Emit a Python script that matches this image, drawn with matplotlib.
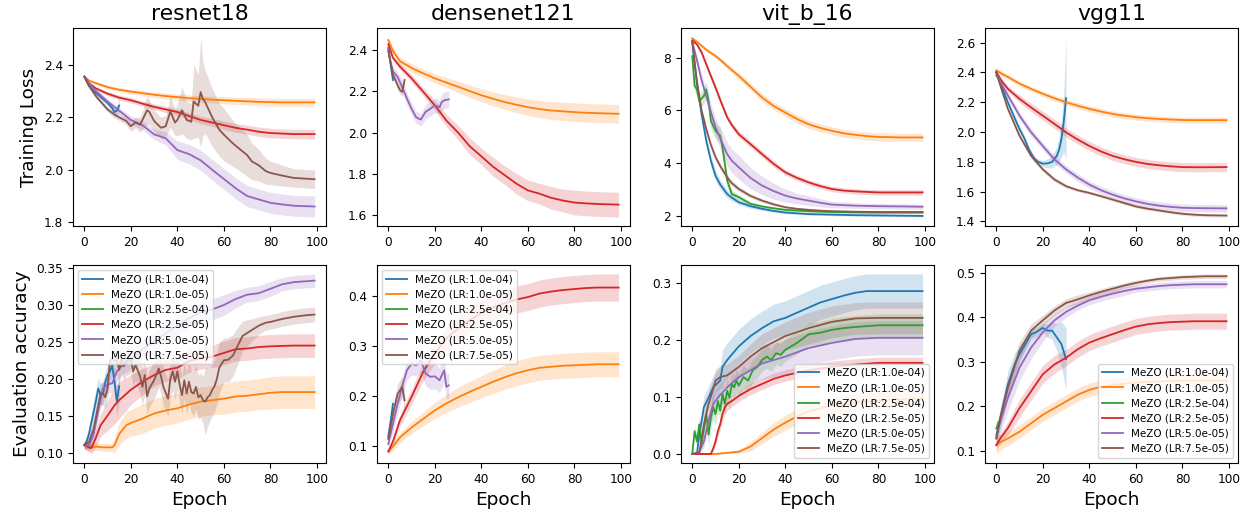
import matplotlib.pyplot as plt
from matplotlib.ticker import MultipleLocator

LABELS = ["MeZO (LR:1.0e-04)", "MeZO (LR:1.0e-05)", "MeZO (LR:2.5e-04)",
          "MeZO (LR:2.5e-05)", "MeZO (LR:5.0e-05)", "MeZO (LR:7.5e-05)"]
MODELS = ["resnet18", "densenet121", "vit_b_16", "vgg11"]
COLORS = ["tab:blue", "tab:orange", "tab:green", "tab:red", "tab:purple", "tab:brown"]

# common epoch grid for the smooth runs
SMOOTH_X = [0, 2, 5, 10, 15, 20, 25, 30, 35, 40, 45, 50, 55, 60, 65, 70, 75, 80, 85, 90, 99]

# ---------------- resnet18, training loss ----------------
res_loss_1e4_x = [0, 2, 4, 6, 8, 10, 12, 13, 14, 15]
res_loss_1e4 = [2.355, 2.32, 2.30, 2.285, 2.27, 2.255, 2.235, 2.22, 2.225, 2.245]
res_loss_1e4_sd = [0.005, 0.008, 0.008, 0.01, 0.01, 0.01, 0.012, 0.015, 0.02, 0.03]
res_loss_1e5 = [2.355, 2.34, 2.33, 2.315, 2.305, 2.298, 2.292, 2.286, 2.281, 2.277, 2.273,
                2.27, 2.267, 2.265, 2.263, 2.261, 2.259, 2.258, 2.257, 2.257, 2.257]
res_loss_1e5_sd = [0.005, 0.005, 0.006, 0.007, 0.008, 0.009, 0.01, 0.01, 0.011, 0.012, 0.012,
                   0.013, 0.013, 0.014, 0.014, 0.015, 0.015, 0.015, 0.015, 0.015, 0.015]
res_loss_25e4_x = [0]
res_loss_25e4 = [2.355]
res_loss_25e4_sd = [0.0]
res_loss_25e5 = [2.355, 2.33, 2.31, 2.29, 2.275, 2.265, 2.252, 2.24, 2.23, 2.22, 2.205,
                 2.19, 2.18, 2.17, 2.16, 2.153, 2.145, 2.14, 2.138, 2.136, 2.136]
res_loss_25e5_sd = [0.005, 0.006, 0.007, 0.008, 0.009, 0.01, 0.01, 0.011, 0.012, 0.012, 0.013,
                    0.014, 0.015, 0.016, 0.017, 0.017, 0.018, 0.018, 0.018, 0.018, 0.018]
res_loss_5e5 = [2.355, 2.33, 2.30, 2.26, 2.225, 2.19, 2.17, 2.135, 2.12, 2.075, 2.06,
                2.036, 2.0, 1.965, 1.93, 1.90, 1.887, 1.874, 1.868, 1.863, 1.86]
res_loss_5e5_sd = [0.005, 0.006, 0.008, 0.01, 0.012, 0.015, 0.018, 0.02, 0.025, 0.035, 0.037,
                   0.038, 0.04, 0.04, 0.04, 0.04, 0.04, 0.04, 0.04, 0.04, 0.04]
res_loss_75e5_x = [0, 2, 5, 8, 10, 13, 15, 18, 20, 22, 24, 25, 27, 28, 30, 33, 35, 37, 39, 40,
                   42, 44, 46, 47, 49, 50, 51, 52, 55, 58, 60, 63, 65, 70, 72, 75, 78, 80, 85, 90, 99]
res_loss_75e5 = [2.355, 2.32, 2.28, 2.25, 2.23, 2.21, 2.20, 2.186, 2.166, 2.18, 2.172, 2.19,
                 2.227, 2.22, 2.186, 2.16, 2.166, 2.222, 2.18, 2.19, 2.227, 2.19, 2.183, 2.26,
                 2.244, 2.296, 2.27, 2.257, 2.20, 2.153, 2.134, 2.108, 2.092, 2.056, 2.032,
                 2.017, 1.995, 1.988, 1.978, 1.969, 1.964]
res_loss_75e5_sd = [0.005, 0.006, 0.008, 0.01, 0.01, 0.012, 0.012, 0.015, 0.02, 0.02, 0.03,
                    0.035, 0.055, 0.045, 0.04, 0.04, 0.04, 0.06, 0.05, 0.06, 0.09, 0.07, 0.07,
                    0.14, 0.12, 0.21, 0.14, 0.12, 0.11, 0.1, 0.1, 0.09, 0.085, 0.08, 0.07, 0.06,
                    0.05, 0.045, 0.04, 0.035, 0.035]

# ---------------- resnet18, evaluation accuracy ----------------
res_acc_1e4_x = [0, 1, 2, 3, 4, 5, 6, 7, 8, 9, 10, 11, 12, 13, 14, 15]
res_acc_1e4 = [0.11, 0.115, 0.125, 0.14, 0.155, 0.17, 0.187, 0.178, 0.18, 0.195, 0.205,
               0.21, 0.218, 0.195, 0.17, 0.19]
res_acc_1e4_sd = [0.005, 0.008, 0.01, 0.012, 0.015, 0.015, 0.015, 0.015, 0.015, 0.015, 0.015,
                  0.015, 0.015, 0.018, 0.02, 0.02]
res_acc_1e5_x = [0, 2, 5, 8, 12, 13, 15, 18, 20, 25, 30, 35, 40, 45, 50, 55, 60, 65, 70, 75,
                 80, 85, 90, 99]
res_acc_1e5 = [0.11, 0.107, 0.108, 0.107, 0.107, 0.11, 0.125, 0.137, 0.14, 0.146, 0.153,
               0.157, 0.16, 0.165, 0.169, 0.171, 0.173, 0.176, 0.177, 0.179, 0.181, 0.182,
               0.182, 0.182]
res_acc_1e5_sd = [0.005, 0.005, 0.005, 0.005, 0.006, 0.01, 0.015, 0.018, 0.018, 0.02, 0.02,
                  0.02, 0.02, 0.02, 0.02, 0.02, 0.021, 0.021, 0.021, 0.021, 0.022, 0.022,
                  0.022, 0.022]
res_acc_25e4_x = [0]
res_acc_25e4 = [0.11]
res_acc_25e4_sd = [0.0]
res_acc_25e5_x = [0, 2, 3, 5, 7, 10, 13, 15, 20, 25, 30, 35, 40, 45, 50, 55, 60, 65, 70, 75,
                  80, 90, 99]
res_acc_25e5 = [0.11, 0.107, 0.106, 0.12, 0.137, 0.15, 0.164, 0.171, 0.185, 0.196, 0.205,
                0.212, 0.215, 0.224, 0.228, 0.23, 0.235, 0.24, 0.241, 0.243, 0.244, 0.245, 0.245]
res_acc_25e5_sd = [0.005, 0.006, 0.008, 0.012, 0.015, 0.02, 0.025, 0.025, 0.02, 0.018, 0.015,
                   0.015, 0.015, 0.015, 0.015, 0.015, 0.016, 0.016, 0.016, 0.016, 0.016,
                   0.016, 0.016]
res_acc_5e5_x = [0, 2, 4, 6, 8, 10, 12, 14, 16, 20, 25, 30, 35, 40, 45, 50, 55, 60, 65, 70,
                 75, 80, 85, 90, 99]
res_acc_5e5 = [0.11, 0.109, 0.125, 0.157, 0.187, 0.192, 0.194, 0.21, 0.217, 0.225, 0.24,
               0.25, 0.262, 0.272, 0.282, 0.29, 0.294, 0.3, 0.308, 0.314, 0.316, 0.322,
               0.328, 0.331, 0.333]
res_acc_5e5_sd = [0.005, 0.006, 0.01, 0.012, 0.012, 0.012, 0.012, 0.012, 0.012, 0.012, 0.012,
                  0.012, 0.013, 0.013, 0.013, 0.013, 0.014, 0.014, 0.012, 0.01, 0.01, 0.01,
                  0.009, 0.009, 0.009]
res_acc_75e5_x = [0, 2, 4, 6, 7, 8, 9, 10, 11, 12, 13, 14, 15, 16, 17, 18, 20, 21, 22, 24,
                  25, 26, 27, 28, 30, 32, 33, 34, 36, 37, 38, 39, 40, 41, 42, 43, 44, 45, 46,
                  47, 48, 49, 50, 51, 52, 53, 54, 55, 56, 57, 58, 60, 62, 64, 66, 68, 70, 72,
                  75, 78, 80, 85, 90, 95, 99]
res_acc_75e5 = [0.11, 0.114, 0.132, 0.164, 0.18, 0.18, 0.175, 0.187, 0.224, 0.228,
                0.224, 0.226, 0.212, 0.228, 0.217, 0.224, 0.228, 0.21, 0.219, 0.203,
                0.189, 0.205, 0.176, 0.187, 0.198, 0.214, 0.203, 0.189, 0.173, 0.2,
                0.21, 0.196, 0.21, 0.192, 0.178, 0.198, 0.18, 0.196, 0.182, 0.18,
                0.189, 0.175, 0.178, 0.171, 0.169, 0.175, 0.178, 0.185, 0.19, 0.2,
                0.215, 0.225, 0.226, 0.232, 0.245, 0.258, 0.262, 0.266, 0.272, 0.276,
                0.277, 0.281, 0.284, 0.286, 0.287]
res_acc_75e5_sd = [0.005, 0.008, 0.01, 0.012, 0.015, 0.015, 0.015,
                   0.015, 0.02, 0.02, 0.02, 0.02, 0.02, 0.02, 0.02, 0.02,
                   0.02, 0.02, 0.02, 0.025, 0.025, 0.025, 0.025, 0.025,
                   0.025, 0.025, 0.025, 0.025, 0.025, 0.025, 0.025, 0.025,
                   0.025, 0.025, 0.025, 0.025, 0.028, 0.028, 0.028, 0.03, 0.03, 0.03,
                   0.03, 0.032, 0.045, 0.04, 0.035, 0.035, 0.035, 0.035, 0.035,
                   0.03, 0.03, 0.028, 0.025, 0.02, 0.018, 0.015, 0.012, 0.01,
                   0.01, 0.01, 0.01, 0.01, 0.01]

# ---------------- densenet121, training loss ----------------
den_loss_1e4_x = [0, 1, 2]
den_loss_1e4 = [2.41, 2.33, 2.255]
den_loss_1e4_sd = [0.01, 0.02, 0.02]
den_loss_1e5 = [2.448, 2.395, 2.346, 2.313, 2.287, 2.263, 2.242, 2.222, 2.201, 2.181, 2.164,
                2.148, 2.135, 2.123, 2.114, 2.107, 2.103, 2.099, 2.096, 2.094, 2.091]
den_loss_1e5_sd = [0.015, 0.015, 0.018, 0.02, 0.02, 0.022, 0.025, 0.028, 0.03, 0.032, 0.034,
                   0.036, 0.038, 0.04, 0.042, 0.043, 0.044, 0.045, 0.045, 0.045, 0.045]
den_loss_25e4_x = [0]
den_loss_25e4 = [2.42]
den_loss_25e4_sd = [0.0]
den_loss_25e5 = [2.428, 2.362, 2.32, 2.263, 2.198, 2.132, 2.058, 2.0, 1.934, 1.885, 1.835,
                 1.794, 1.753, 1.72, 1.704, 1.684, 1.671, 1.661, 1.657, 1.654, 1.651]
den_loss_25e5_sd = [0.01, 0.012, 0.015, 0.018, 0.02, 0.025, 0.03, 0.035, 0.04, 0.04, 0.045,
                    0.045, 0.05, 0.05, 0.05, 0.055, 0.055, 0.06, 0.06, 0.06, 0.06]
den_loss_5e5_x = [0, 1, 2, 4, 6, 8, 10, 12, 14, 16, 18, 20, 22, 23, 24, 26]
den_loss_5e5 = [2.41, 2.34, 2.296, 2.27, 2.22, 2.165, 2.115, 2.074, 2.063, 2.1, 2.115, 2.132,
                2.123, 2.148, 2.156, 2.161]
den_loss_5e5_sd = [0.02, 0.022, 0.025, 0.025, 0.03, 0.03, 0.03, 0.03, 0.03, 0.035, 0.035,
                   0.035, 0.035, 0.04, 0.04, 0.04]
den_loss_75e5_x = [0, 2, 4, 5, 6, 7]
den_loss_75e5 = [2.395, 2.28, 2.23, 2.206, 2.197, 2.255]
den_loss_75e5_sd = [0.01, 0.015, 0.02, 0.02, 0.02, 0.02]

# ---------------- densenet121, evaluation accuracy ----------------
den_acc_1e4_x = [0, 1, 2]
den_acc_1e4 = [0.12, 0.15, 0.185]
den_acc_1e4_sd = [0.01, 0.015, 0.02]
den_acc_1e5 = [0.09, 0.1, 0.118, 0.138, 0.155, 0.172, 0.186, 0.198, 0.209, 0.219, 0.229,
               0.238, 0.246, 0.252, 0.257, 0.259, 0.261, 0.262, 0.263, 0.264, 0.264]
den_acc_1e5_sd = [0.005, 0.008, 0.01, 0.012, 0.014, 0.016, 0.018, 0.02, 0.021, 0.022, 0.023,
                  0.024, 0.025, 0.025, 0.025, 0.025, 0.025, 0.025, 0.025, 0.025, 0.025]
den_acc_25e4_x = [0]
den_acc_25e4 = [0.1]
den_acc_25e4_sd = [0.0]
den_acc_25e5 = [0.09, 0.11, 0.152, 0.199, 0.249, 0.286, 0.316, 0.335, 0.352, 0.366, 0.377,
                0.386, 0.393, 0.398, 0.405, 0.409, 0.412, 0.414, 0.416, 0.417, 0.417]
den_acc_25e5_sd = [0.005, 0.008, 0.012, 0.015, 0.018, 0.02, 0.022, 0.024, 0.025, 0.025, 0.026,
                   0.026, 0.027, 0.027, 0.027, 0.027, 0.027, 0.027, 0.027, 0.027, 0.027]
den_acc_5e5_x = [0, 2, 4, 6, 8, 10, 12, 14, 16, 18, 20, 22, 24, 25, 26]
den_acc_5e5 = [0.105, 0.145, 0.185, 0.22, 0.252, 0.265, 0.262, 0.272, 0.246, 0.239, 0.24,
               0.232, 0.252, 0.219, 0.222]
den_acc_5e5_sd = [0.01, 0.015, 0.02, 0.02, 0.02, 0.022, 0.022, 0.025, 0.025, 0.025, 0.025,
                  0.025, 0.025, 0.025, 0.025]
den_acc_75e5_x = [0, 2, 4, 6, 7]
den_acc_75e5 = [0.115, 0.165, 0.205, 0.219, 0.192]
den_acc_75e5_sd = [0.01, 0.015, 0.02, 0.02, 0.02]

# ---------------- vit_b_16, training loss ----------------
VIT_X = [0, 2, 4, 6, 8, 10, 12, 15, 17, 20, 25, 30, 35, 40, 45, 50, 55, 60, 65, 70, 75, 80,
         90, 99]
vit_loss_1e4 = [8.6, 7.0, 5.86, 4.86, 4.1, 3.53, 3.2, 2.84, 2.7, 2.53, 2.38, 2.28, 2.2, 2.14,
                2.11, 2.08, 2.07, 2.06, 2.05, 2.04, 2.035, 2.03, 2.02, 2.01]
vit_loss_1e4_sd = [0.05, 0.15, 0.2, 0.2, 0.2, 0.2, 0.18, 0.15, 0.12, 0.1, 0.08, 0.06, 0.05,
                   0.05, 0.04, 0.04, 0.04, 0.04, 0.04, 0.04, 0.04, 0.04, 0.04, 0.04]
vit_loss_1e5 = [8.73, 8.6, 8.45, 8.3, 8.18, 8.06, 7.92, 7.68, 7.53, 7.31, 6.9, 6.49, 6.17,
                5.92, 5.68, 5.48, 5.34, 5.23, 5.14, 5.08, 5.03, 5.0, 4.98, 4.98]
vit_loss_1e5_sd = [0.05, 0.05, 0.06, 0.07, 0.08, 0.08, 0.09, 0.1, 0.1, 0.12, 0.13, 0.14, 0.14,
                   0.15, 0.15, 0.15, 0.15, 0.15, 0.15, 0.15, 0.15, 0.15, 0.15, 0.15]
vit_loss_25e4_x = [0, 1, 2, 3, 4, 5, 6, 7, 8, 10, 12, 13, 14, 15, 17, 20, 25, 30, 35, 40, 50,
                   60, 70, 80, 99]
vit_loss_25e4 = [8.06, 6.93, 6.8, 6.36, 6.45, 6.55, 6.8, 6.36, 5.6, 5.23, 5.04, 4.6, 3.97,
                 3.35, 2.84, 2.72, 2.47, 2.37, 2.3, 2.24, 2.19, 2.16, 2.15, 2.14, 2.14]
vit_loss_25e4_sd = [0.1, 0.2, 0.25, 0.25, 0.3, 0.3, 0.3, 0.3, 0.3, 0.3, 0.3, 0.3, 0.3, 0.25,
                    0.15, 0.1, 0.08, 0.06, 0.05, 0.05, 0.05, 0.05, 0.05, 0.05, 0.05]
vit_loss_25e5 = [8.65, 8.5, 8.2, 7.75, 7.3, 6.87, 6.4, 5.74, 5.45, 5.1, 4.73, 4.35, 3.98,
                 3.66, 3.45, 3.28, 3.14, 3.03, 2.97, 2.94, 2.92, 2.9, 2.9, 2.9]
vit_loss_25e5_sd = [0.05, 0.05, 0.08, 0.1, 0.12, 0.12, 0.12, 0.12, 0.12, 0.12, 0.12, 0.12,
                    0.12, 0.1, 0.1, 0.1, 0.1, 0.1, 0.1, 0.1, 0.1, 0.1, 0.1, 0.1]
vit_loss_5e5 = [8.6, 7.9, 7.15, 6.55, 5.95, 5.36, 4.95, 4.35, 4.1, 3.85, 3.45, 3.16, 2.95,
                2.78, 2.67, 2.59, 2.51, 2.44, 2.42, 2.4, 2.39, 2.38, 2.37, 2.36]
vit_loss_5e5_sd = [0.1, 0.15, 0.2, 0.25, 0.3, 0.35, 0.4, 0.45, 0.45, 0.45, 0.4, 0.35, 0.3,
                   0.25, 0.2, 0.18, 0.15, 0.12, 0.12, 0.1, 0.1, 0.1, 0.1, 0.1]
vit_loss_75e5 = [8.6, 7.1, 6.0, 5.3, 4.7, 4.23, 3.9, 3.47, 3.25, 3.03, 2.77, 2.59, 2.45, 2.34,
                 2.28, 2.24, 2.21, 2.19, 2.18, 2.17, 2.165, 2.16, 2.16, 2.16]
vit_loss_75e5_sd = [0.05, 0.1, 0.12, 0.12, 0.12, 0.12, 0.12, 0.1, 0.1, 0.1, 0.08, 0.07, 0.06,
                    0.05, 0.05, 0.05, 0.05, 0.05, 0.05, 0.05, 0.05, 0.05, 0.05, 0.05]

# ---------------- vit_b_16, evaluation accuracy ----------------
vit_acc_1e4_x = [0, 2, 3, 4, 5, 7, 9, 12, 13, 15, 20, 25, 30, 35, 40, 45, 50, 55, 60, 65, 70,
                 75, 80, 90, 99]
vit_acc_1e4 = [0.0, 0.0, 0.034, 0.058, 0.082, 0.099, 0.117, 0.129, 0.153, 0.165, 0.189,
               0.207, 0.221, 0.233, 0.239, 0.248, 0.257, 0.266, 0.272, 0.278, 0.283, 0.286,
               0.286, 0.286, 0.286]
vit_acc_1e4_sd = [0.0, 0.0, 0.01, 0.015, 0.02, 0.02, 0.02, 0.025, 0.03, 0.03, 0.03, 0.03, 0.03,
                  0.03, 0.03, 0.03, 0.03, 0.03, 0.03, 0.03, 0.03, 0.03, 0.03, 0.03, 0.03]
vit_acc_1e5_x = [0, 10, 15, 20, 25, 30, 35, 40, 45, 50, 60, 70, 80, 90, 99]
vit_acc_1e5 = [0.0, 0.0, 0.002, 0.004, 0.013, 0.028, 0.043, 0.055, 0.066, 0.075, 0.085, 0.09,
               0.094, 0.096, 0.097]
vit_acc_1e5_sd = [0.0, 0.0, 0.001, 0.003, 0.008, 0.01, 0.012, 0.013, 0.014, 0.015, 0.015,
                  0.015, 0.015, 0.015, 0.015]
vit_acc_25e4_x = [0, 1, 2, 3, 4, 6, 7, 8, 9, 10, 11, 12, 13, 14, 15, 16, 17, 18, 19, 20, 22,
                  24, 26, 28, 30, 32, 34, 36, 38, 40, 45, 50, 55, 60, 65, 70, 80, 99]
vit_acc_25e4 = [0.0, 0.04, 0.022, 0.052, 0.019, 0.07, 0.034, 0.064, 0.082, 0.07,
                0.093, 0.076, 0.105, 0.088, 0.111, 0.099, 0.123, 0.117, 0.129, 0.12,
                0.135, 0.129, 0.147, 0.153, 0.165, 0.171, 0.165, 0.177, 0.174, 0.183,
                0.195, 0.21, 0.213, 0.218, 0.221, 0.223, 0.226, 0.226]
vit_acc_25e4_sd = [0.0, 0.01, 0.01, 0.015, 0.015, 0.02, 0.02, 0.02, 0.02, 0.02,
                   0.02, 0.02, 0.02, 0.02, 0.02, 0.02, 0.02, 0.02, 0.02, 0.02,
                   0.02, 0.02, 0.02, 0.02, 0.02, 0.02, 0.02, 0.02, 0.02, 0.02,
                   0.02, 0.02, 0.02, 0.02, 0.02, 0.02, 0.02, 0.02]
vit_acc_25e5_x = [0, 8, 9, 10, 11, 12, 13, 14, 15, 17, 20, 25, 30, 35, 40, 50, 60, 70, 80, 99]
vit_acc_25e5 = [0.0, 0.0, 0.01, 0.022, 0.04, 0.052, 0.07, 0.082, 0.088, 0.093, 0.102, 0.114,
                0.123, 0.132, 0.138, 0.147, 0.153, 0.157, 0.16, 0.16]
vit_acc_25e5_sd = [0.0, 0.0, 0.005, 0.008, 0.01, 0.01, 0.012, 0.012, 0.012, 0.01, 0.01, 0.01,
                   0.01, 0.01, 0.01, 0.01, 0.01, 0.01, 0.01, 0.01]
vit_acc_5e5_x = [0, 3, 5, 7, 9, 11, 13, 15, 20, 25, 30, 40, 50, 60, 70, 80, 99]
vit_acc_5e5 = [0.0, 0.004, 0.022, 0.058, 0.088, 0.099, 0.108, 0.117, 0.135, 0.147, 0.159,
               0.171, 0.186, 0.195, 0.202, 0.204, 0.204]
vit_acc_5e5_sd = [0.0, 0.003, 0.01, 0.015, 0.02, 0.02, 0.02, 0.02, 0.022, 0.025, 0.028, 0.03,
                  0.03, 0.03, 0.03, 0.03, 0.03]
vit_acc_75e5_x = [0, 3, 5, 7, 9, 10, 12, 15, 20, 25, 30, 40, 50, 60, 70, 80, 99]
vit_acc_75e5 = [0.0, 0.002, 0.052, 0.088, 0.114, 0.129, 0.135, 0.138, 0.153, 0.171, 0.186,
                0.207, 0.221, 0.232, 0.238, 0.239, 0.239]
vit_acc_75e5_sd = [0.0, 0.002, 0.015, 0.02, 0.02, 0.02, 0.02, 0.02, 0.02, 0.022, 0.025, 0.025,
                   0.028, 0.028, 0.028, 0.028, 0.028]

# ---------------- vgg11, training loss ----------------
vgg_loss_1e4_x = [0, 2, 5, 8, 10, 12, 14, 16, 17, 18, 20, 22, 24, 26, 27, 28, 29, 30]
vgg_loss_1e4 = [2.4, 2.32, 2.2, 2.09, 2.02, 1.96, 1.885, 1.83, 1.813, 1.8, 1.788, 1.79, 1.8,
                1.84, 1.88, 1.953, 2.065, 2.228]
vgg_loss_1e4_sd = [0.01, 0.015, 0.02, 0.02, 0.02, 0.02, 0.02, 0.02, 0.02, 0.02, 0.02, 0.03,
                   0.04, 0.06, 0.08, 0.12, 0.2, 0.41]
vgg_loss_1e5 = [2.415, 2.395, 2.37, 2.325, 2.29, 2.257, 2.227, 2.2, 2.177, 2.156, 2.138,
                2.122, 2.11, 2.1, 2.093, 2.088, 2.084, 2.081, 2.08, 2.08, 2.08]
vgg_loss_1e5_sd = [0.015, 0.015, 0.016, 0.017, 0.018, 0.018, 0.019, 0.02, 0.02, 0.02, 0.02,
                   0.02, 0.02, 0.02, 0.02, 0.02, 0.02, 0.02, 0.02, 0.02, 0.02]
vgg_loss_25e4_x = [0, 1]
vgg_loss_25e4 = [2.38, 2.36]
vgg_loss_25e4_sd = [0.01, 0.01]
vgg_loss_25e5 = [2.404, 2.35, 2.29, 2.223, 2.165, 2.11, 2.055, 1.998, 1.95, 1.907, 1.87,
                 1.84, 1.818, 1.8, 1.786, 1.777, 1.77, 1.765, 1.764, 1.764, 1.765]
vgg_loss_25e5_sd = [0.01, 0.015, 0.02, 0.025, 0.028, 0.03, 0.03, 0.03, 0.03, 0.03, 0.03,
                    0.03, 0.03, 0.03, 0.03, 0.03, 0.03, 0.03, 0.03, 0.03, 0.03]
vgg_loss_5e5 = [2.4, 2.33, 2.246, 2.11, 1.998, 1.907, 1.817, 1.75, 1.695, 1.648, 1.61, 1.58,
                1.555, 1.535, 1.518, 1.506, 1.498, 1.492, 1.49, 1.489, 1.488]
vgg_loss_5e5_sd = [0.01, 0.015, 0.02, 0.025, 0.025, 0.025, 0.025, 0.025, 0.025, 0.025, 0.025,
                   0.025, 0.025, 0.025, 0.025, 0.025, 0.025, 0.025, 0.025, 0.025, 0.025]
vgg_loss_75e5 = [2.4, 2.3, 2.156, 1.975, 1.84, 1.75, 1.682, 1.637, 1.61, 1.592, 1.57, 1.547,
                 1.524, 1.501, 1.486, 1.474, 1.462, 1.452, 1.446, 1.442, 1.44]
vgg_loss_75e5_sd = [0.01, 0.012, 0.015, 0.015, 0.015, 0.015, 0.015, 0.012, 0.01, 0.01, 0.01,
                    0.01, 0.01, 0.01, 0.01, 0.01, 0.01, 0.01, 0.01, 0.01, 0.01]

# ---------------- vgg11, evaluation accuracy ----------------
vgg_acc_1e4_x = [0, 2, 5, 8, 10, 12, 15, 17, 20, 22, 24, 26, 28, 30]
vgg_acc_1e4 = [0.128, 0.18, 0.249, 0.295, 0.317, 0.335, 0.362, 0.366, 0.376, 0.37, 0.37,
               0.355, 0.34, 0.306]
vgg_acc_1e4_sd = [0.02, 0.025, 0.03, 0.025, 0.02, 0.015, 0.01, 0.01, 0.01, 0.015, 0.02, 0.03,
                  0.05, 0.07]
vgg_acc_1e5 = [0.113, 0.12, 0.128, 0.143, 0.162, 0.181, 0.196, 0.211, 0.226, 0.237, 0.244,
               0.248, 0.251, 0.253, 0.255, 0.256, 0.257, 0.258, 0.258, 0.258, 0.258]
vgg_acc_1e5_sd = [0.02, 0.018, 0.016, 0.015, 0.015, 0.015, 0.015, 0.015, 0.015, 0.015, 0.015,
                  0.015, 0.015, 0.015, 0.015, 0.015, 0.015, 0.015, 0.015, 0.015, 0.015]
vgg_acc_25e4_x = [0, 1]
vgg_acc_25e4 = [0.15, 0.165]
vgg_acc_25e4_sd = [0.01, 0.01]
vgg_acc_25e5 = [0.113, 0.13, 0.151, 0.196, 0.234, 0.272, 0.294, 0.309, 0.328, 0.343, 0.353,
                0.362, 0.371, 0.379, 0.384, 0.387, 0.389, 0.39, 0.391, 0.391, 0.391]
vgg_acc_25e5_sd = [0.01, 0.012, 0.015, 0.02, 0.02, 0.02, 0.02, 0.018, 0.018, 0.018, 0.018,
                   0.018, 0.018, 0.018, 0.018, 0.018, 0.018, 0.018, 0.018, 0.018, 0.018]
vgg_acc_5e5 = [0.136, 0.17, 0.219, 0.287, 0.332, 0.366, 0.393, 0.412, 0.426, 0.438, 0.446,
               0.453, 0.459, 0.464, 0.467, 0.47, 0.472, 0.473, 0.474, 0.474, 0.474]
vgg_acc_5e5_sd = [0.02, 0.025, 0.03, 0.03, 0.025, 0.02, 0.015, 0.012, 0.01, 0.01, 0.01, 0.01,
                  0.01, 0.008, 0.008, 0.008, 0.008, 0.008, 0.008, 0.008, 0.008]
vgg_acc_75e5 = [0.128, 0.18, 0.241, 0.325, 0.37, 0.393, 0.415, 0.432, 0.44, 0.449, 0.457,
                0.464, 0.471, 0.477, 0.482, 0.486, 0.488, 0.49, 0.491, 0.492, 0.492]
vgg_acc_75e5_sd = [0.01, 0.015, 0.02, 0.02, 0.015, 0.012, 0.01, 0.01, 0.01, 0.008, 0.007,
                   0.007, 0.006, 0.006, 0.005, 0.005, 0.005, 0.005, 0.005, 0.005, 0.005]

# runs per panel, in legend order
loss_runs = [
    [(res_loss_1e4_x, res_loss_1e4, res_loss_1e4_sd), (SMOOTH_X, res_loss_1e5, res_loss_1e5_sd),
     (res_loss_25e4_x, res_loss_25e4, res_loss_25e4_sd), (SMOOTH_X, res_loss_25e5, res_loss_25e5_sd),
     (SMOOTH_X, res_loss_5e5, res_loss_5e5_sd), (res_loss_75e5_x, res_loss_75e5, res_loss_75e5_sd)],
    [(den_loss_1e4_x, den_loss_1e4, den_loss_1e4_sd), (SMOOTH_X, den_loss_1e5, den_loss_1e5_sd),
     (den_loss_25e4_x, den_loss_25e4, den_loss_25e4_sd), (SMOOTH_X, den_loss_25e5, den_loss_25e5_sd),
     (den_loss_5e5_x, den_loss_5e5, den_loss_5e5_sd), (den_loss_75e5_x, den_loss_75e5, den_loss_75e5_sd)],
    [(VIT_X, vit_loss_1e4, vit_loss_1e4_sd), (VIT_X, vit_loss_1e5, vit_loss_1e5_sd),
     (vit_loss_25e4_x, vit_loss_25e4, vit_loss_25e4_sd), (VIT_X, vit_loss_25e5, vit_loss_25e5_sd),
     (VIT_X, vit_loss_5e5, vit_loss_5e5_sd), (VIT_X, vit_loss_75e5, vit_loss_75e5_sd)],
    [(vgg_loss_1e4_x, vgg_loss_1e4, vgg_loss_1e4_sd), (SMOOTH_X, vgg_loss_1e5, vgg_loss_1e5_sd),
     (vgg_loss_25e4_x, vgg_loss_25e4, vgg_loss_25e4_sd), (SMOOTH_X, vgg_loss_25e5, vgg_loss_25e5_sd),
     (SMOOTH_X, vgg_loss_5e5, vgg_loss_5e5_sd), (SMOOTH_X, vgg_loss_75e5, vgg_loss_75e5_sd)],
]
acc_runs = [
    [(res_acc_1e4_x, res_acc_1e4, res_acc_1e4_sd), (res_acc_1e5_x, res_acc_1e5, res_acc_1e5_sd),
     (res_acc_25e4_x, res_acc_25e4, res_acc_25e4_sd), (res_acc_25e5_x, res_acc_25e5, res_acc_25e5_sd),
     (res_acc_5e5_x, res_acc_5e5, res_acc_5e5_sd), (res_acc_75e5_x, res_acc_75e5, res_acc_75e5_sd)],
    [(den_acc_1e4_x, den_acc_1e4, den_acc_1e4_sd), (SMOOTH_X, den_acc_1e5, den_acc_1e5_sd),
     (den_acc_25e4_x, den_acc_25e4, den_acc_25e4_sd), (SMOOTH_X, den_acc_25e5, den_acc_25e5_sd),
     (den_acc_5e5_x, den_acc_5e5, den_acc_5e5_sd), (den_acc_75e5_x, den_acc_75e5, den_acc_75e5_sd)],
    [(vit_acc_1e4_x, vit_acc_1e4, vit_acc_1e4_sd), (vit_acc_1e5_x, vit_acc_1e5, vit_acc_1e5_sd),
     (vit_acc_25e4_x, vit_acc_25e4, vit_acc_25e4_sd), (vit_acc_25e5_x, vit_acc_25e5, vit_acc_25e5_sd),
     (vit_acc_5e5_x, vit_acc_5e5, vit_acc_5e5_sd), (vit_acc_75e5_x, vit_acc_75e5, vit_acc_75e5_sd)],
    [(vgg_acc_1e4_x, vgg_acc_1e4, vgg_acc_1e4_sd), (SMOOTH_X, vgg_acc_1e5, vgg_acc_1e5_sd),
     (vgg_acc_25e4_x, vgg_acc_25e4, vgg_acc_25e4_sd), (SMOOTH_X, vgg_acc_25e5, vgg_acc_25e5_sd),
     (SMOOTH_X, vgg_acc_5e5, vgg_acc_5e5_sd), (SMOOTH_X, vgg_acc_75e5, vgg_acc_75e5_sd)],
]

loss_steps = [0.2, 0.2, 2, 0.2]
acc_steps = [0.05, 0.1, 0.1, 0.1]
legend_locs = ["upper left", "upper left", "lower right", "lower right"]


def draw(ax, runs):
    for (x, y, sd), color, label in zip(runs, COLORS, LABELS):
        lo = [m - s for m, s in zip(y, sd)]
        hi = [m + s for m, s in zip(y, sd)]
        ax.plot(x, y, color=color, lw=1.3, label=label)
        ax.fill_between(x, lo, hi, color=color, alpha=0.2, lw=0)


fig, axes = plt.subplots(2, 4, figsize=(12.55, 5.14), dpi=100)
fig.subplots_adjust(left=0.058, right=0.9865, top=0.9455, bottom=0.0992,
                    wspace=0.2, hspace=0.197)

for i in range(4):
    top = axes[0, i]
    bot = axes[1, i]
    draw(top, loss_runs[i])
    draw(bot, acc_runs[i])
    top.set_title(MODELS[i], fontsize=15.8)
    top.yaxis.set_major_locator(MultipleLocator(loss_steps[i]))
    bot.yaxis.set_major_locator(MultipleLocator(acc_steps[i]))
    for ax in (top, bot):
        ax.xaxis.set_major_locator(MultipleLocator(20))
        ax.tick_params(labelsize=8.7)
    bot.set_xlabel("Epoch", fontsize=13.3)
    bot.legend(loc=legend_locs[i], fontsize=7.45)

axes[0, 0].set_ylabel("Training Loss", fontsize=13.3)
axes[1, 0].set_ylabel("Evaluation accuracy", fontsize=13.3)

plt.savefig("out.png")
plt.close()
